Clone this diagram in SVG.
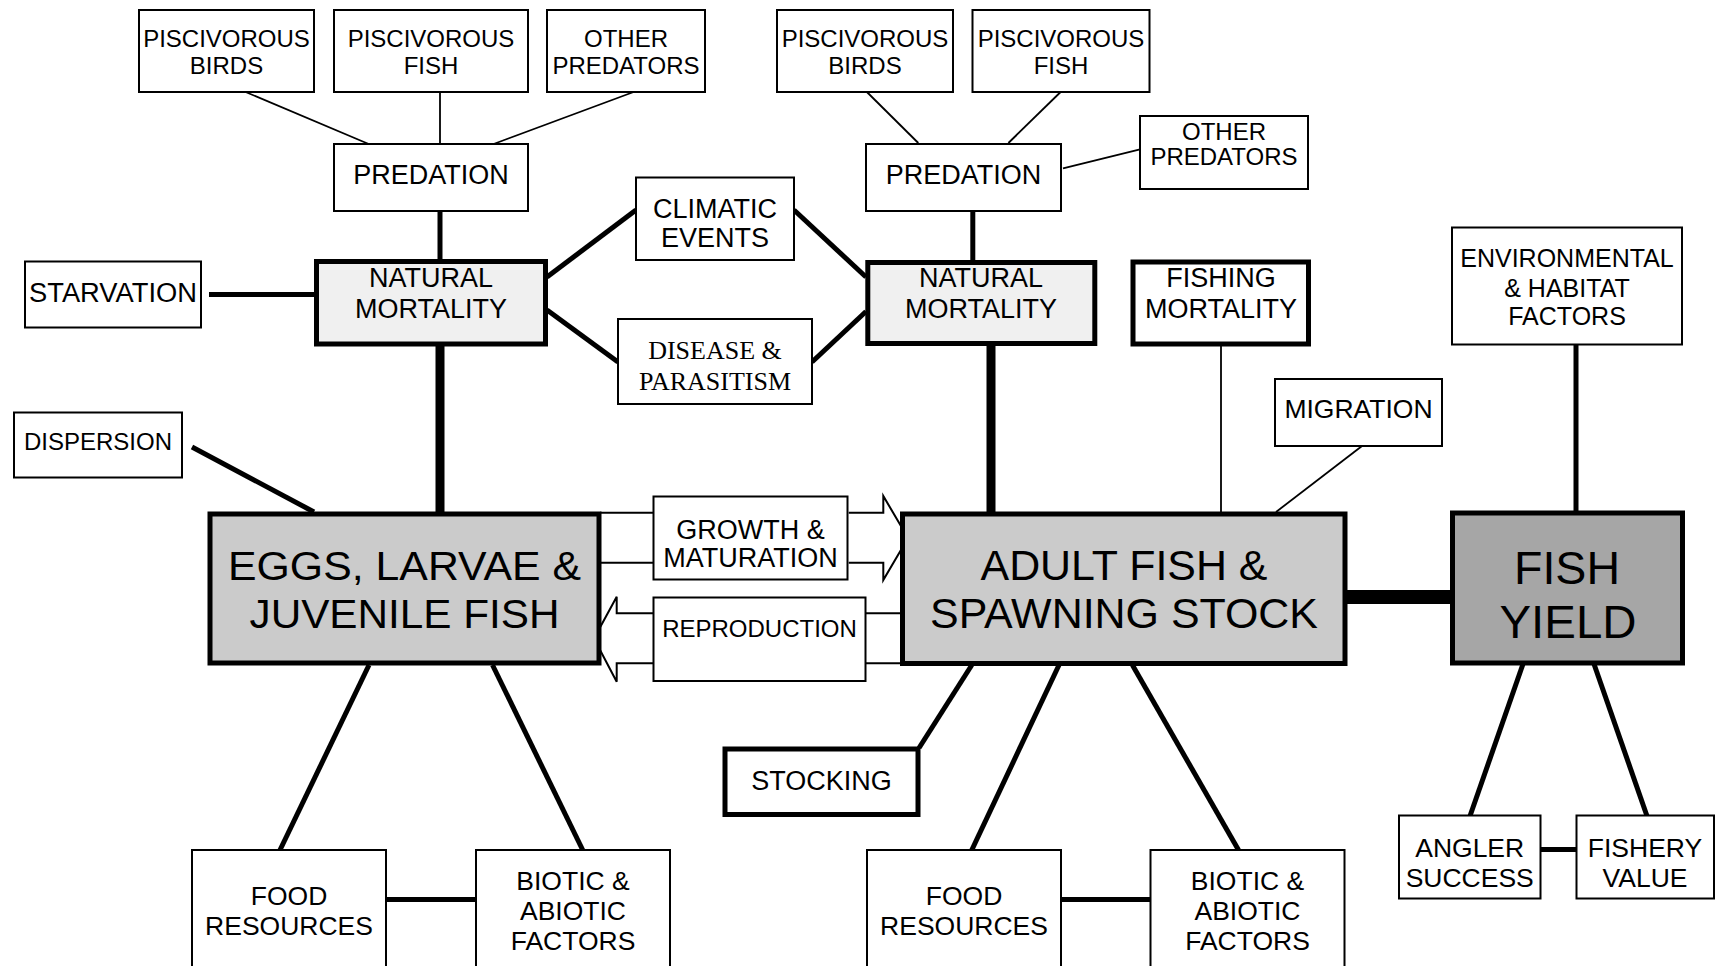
<svg xmlns="http://www.w3.org/2000/svg" width="1715" height="966" viewBox="0 0 1715 966">
<style>
.bx{fill:#fff;stroke:#000;stroke-width:2}
.bk{fill:#fff;stroke:#000;stroke-width:5}
.nm{fill:#f0f0f0;stroke:#000;stroke-width:5}
.big{fill:#cbcbcb;stroke:#000;stroke-width:5}
.fy{fill:#a6a6a6;stroke:#000;stroke-width:5}
.t{font-family:"Liberation Sans",Arial,sans-serif;font-size:27px;fill:#000;text-anchor:middle}
.m{font-size:26.5px}
.s{font-size:24px}
.sf{font-family:"Liberation Serif","Times New Roman",serif;font-size:26px}
.c1{stroke:#000;stroke-width:1.8;fill:none}
.c2{stroke:#000;stroke-width:5;fill:none}
.c3{stroke:#000;stroke-width:9;fill:none}
.c4{stroke:#000;stroke-width:14;fill:none}
.ar{stroke:#000;stroke-width:2;fill:#fff;stroke-linejoin:miter}
</style>
<rect width="1715" height="966" fill="#fff"/>
<g id="connectors">
<line class="c1" x1="245.6" y1="92" x2="368.7" y2="144"/>
<line class="c1" x1="440" y1="92" x2="440" y2="144"/>
<line class="c1" x1="633.6" y1="92" x2="493.6" y2="144"/>
<line class="c1" x1="866.9" y1="92" x2="918.3" y2="143"/>
<line class="c1" x1="1060.6" y1="92" x2="1008.4" y2="143"/>
<line class="c1" x1="1063" y1="168.3" x2="1140" y2="149.3"/>
<line class="c1" x1="1221" y1="346" x2="1221" y2="512"/>
<line class="c1" x1="1362" y1="446" x2="1276" y2="512"/>
<line class="c2" x1="440" y1="211" x2="440" y2="261"/>
<line class="c2" x1="972.8" y1="211" x2="972.8" y2="262"/>
<line class="c2" x1="209" y1="294.5" x2="316" y2="294.5"/>
<line class="c2" x1="547" y1="277" x2="636" y2="210"/>
<line class="c2" x1="794" y1="210" x2="866" y2="277"/>
<line class="c2" x1="547" y1="310" x2="618" y2="362"/>
<line class="c2" x1="812" y1="362" x2="866" y2="311.5"/>
<line class="c2" x1="192" y1="447" x2="314" y2="512"/>
<line class="c2" x1="1576" y1="345" x2="1576" y2="512"/>
<line class="c2" x1="369" y1="665" x2="280" y2="850"/>
<line class="c2" x1="492.5" y1="665" x2="582.7" y2="850"/>
<line class="c2" x1="386" y1="899.5" x2="476" y2="899.5"/>
<line class="c2" x1="971.8" y1="665" x2="919" y2="748"/>
<line class="c2" x1="1059" y1="665" x2="971.8" y2="850"/>
<line class="c2" x1="1132.4" y1="665" x2="1238.5" y2="850"/>
<line class="c2" x1="1061" y1="899.5" x2="1150" y2="899.5"/>
<line class="c2" x1="1523" y1="664" x2="1470" y2="816"/>
<line class="c2" x1="1594" y1="664" x2="1647" y2="816"/>
<line class="c2" x1="1541" y1="849.5" x2="1576" y2="849.5"/>
<line class="c3" x1="440" y1="344" x2="440" y2="513"/>
<line class="c3" x1="991" y1="344" x2="991" y2="513"/>
<line class="c4" x1="1346" y1="597" x2="1452" y2="597"/>
<line class="c1" x1="600" y1="512.7" x2="654" y2="512.7" style="stroke-width:2"/>
<line class="c1" x1="600" y1="562.7" x2="654" y2="562.7" style="stroke-width:2"/>
<path class="ar" d="M848.7,512.7 H883.3 V496 L908,538 L883.3,580 V562.7 H848.7"/>
<line class="c1" x1="865" y1="613.3" x2="902" y2="613.3" style="stroke-width:2"/>
<line class="c1" x1="865" y1="663.3" x2="902" y2="663.3" style="stroke-width:2"/>
<path class="ar" d="M653.5,613.3 H616.7 V596.7 L594,638.5 L616.7,681.7 V663.3 H653.5"/>
</g>
<g id="pisc-birds-l"><rect class="bx" x="139" y="10" width="175" height="82"/><text class="t s" x="226.5" y="47">PISCIVOROUS</text><text class="t s" x="226.5" y="74">BIRDS</text></g>
<g id="pisc-fish-l"><rect class="bx" x="334" y="10" width="194" height="82"/><text class="t s" x="431" y="47">PISCIVOROUS</text><text class="t s" x="431" y="74">FISH</text></g>
<g id="other-pred-l"><rect class="bx" x="547" y="10" width="158" height="82"/><text class="t s" x="626" y="47">OTHER</text><text class="t s" x="626" y="74">PREDATORS</text></g>
<g id="predation-l"><rect class="bx" x="334" y="144" width="194" height="67"/><text class="t" x="431" y="184">PREDATION</text></g>
<g id="pisc-birds-r"><rect class="bx" x="777" y="10" width="176" height="82"/><text class="t s" x="865" y="47">PISCIVOROUS</text><text class="t s" x="865" y="74">BIRDS</text></g>
<g id="pisc-fish-r"><rect class="bx" x="972.5" y="10" width="177" height="82"/><text class="t s" x="1061" y="47">PISCIVOROUS</text><text class="t s" x="1061" y="74">FISH</text></g>
<g id="other-pred-r"><rect class="bx" x="1140" y="116" width="168" height="73"/><text class="t s" x="1224" y="140">OTHER</text><text class="t s" x="1224" y="165">PREDATORS</text></g>
<g id="predation-r"><rect class="bx" x="866" y="144" width="195" height="67"/><text class="t" x="963.5" y="184">PREDATION</text></g>
<g id="starvation"><rect class="bx" x="25" y="261.5" width="176" height="66"/><text class="t" x="113" y="302" textLength="168" lengthAdjust="spacingAndGlyphs">STARVATION</text></g>
<g id="natmort-l"><rect class="nm" x="316.5" y="261.5" width="229" height="82.5"/><text class="t" x="431" y="287">NATURAL</text><text class="t" x="431" y="318">MORTALITY</text></g>
<g id="climatic"><rect class="bx" x="636" y="177.5" width="158" height="82.5"/><text class="t" x="715" y="218">CLIMATIC</text><text class="t" x="715" y="247">EVENTS</text></g>
<g id="disease"><rect class="bx" x="618" y="319" width="194" height="85"/><text class="t sf" x="715" y="359">DISEASE &amp;</text><text class="t sf" x="715" y="390">PARASITISM</text></g>
<g id="natmort-r"><rect class="nm" x="867.8" y="262.5" width="227" height="81"/><text class="t" x="981" y="287">NATURAL</text><text class="t" x="981" y="318">MORTALITY</text></g>
<g id="fishing-mort"><rect class="bk" x="1133" y="262" width="175.5" height="82"/><text class="t" x="1221" y="287">FISHING</text><text class="t" x="1221" y="318">MORTALITY</text></g>
<g id="environmental"><rect class="bx" x="1452" y="227.5" width="230" height="117"/><text class="t" x="1567" y="267" style="font-size:25px">ENVIRONMENTAL</text><text class="t" x="1567" y="296.5" style="font-size:25px">&amp; HABITAT</text><text class="t" x="1567" y="325" style="font-size:25px">FACTORS</text></g>
<g id="migration"><rect class="bx" x="1275" y="379" width="167" height="67"/><text class="t m" x="1358.5" y="418">MIGRATION</text></g>
<g id="dispersion"><rect class="bx" x="14" y="412.5" width="168" height="65"/><text class="t s" x="98" y="450">DISPERSION</text></g>
<g id="growth"><rect class="bx" x="653.5" y="496.5" width="194" height="83"/><text class="t" x="750.5" y="539">GROWTH &amp;</text><text class="t" x="750.5" y="567">MATURATION</text></g>
<g id="reproduction"><rect class="bx" x="653.5" y="597.5" width="212" height="83.5"/><text class="t s" x="759.5" y="637">REPRODUCTION</text></g>
<g id="eggs"><rect class="big" x="210" y="514" width="389" height="149"/><text class="t" x="404.5" y="580" style="font-size:41px" textLength="353" lengthAdjust="spacingAndGlyphs">EGGS, LARVAE &amp;</text><text class="t" x="404.5" y="628" style="font-size:41px" textLength="310" lengthAdjust="spacingAndGlyphs">JUVENILE FISH</text></g>
<g id="adult"><rect class="big" x="902.5" y="514" width="442.5" height="149.5"/><text class="t" x="1124" y="580" style="font-size:42px" textLength="287" lengthAdjust="spacingAndGlyphs">ADULT FISH &amp;</text><text class="t" x="1124" y="628" style="font-size:42px" textLength="388" lengthAdjust="spacingAndGlyphs">SPAWNING STOCK</text></g>
<g id="fish-yield"><rect class="fy" x="1452.5" y="513" width="230" height="150"/><text class="t" x="1567" y="584" style="font-size:46px" textLength="106" lengthAdjust="spacingAndGlyphs">FISH</text><text class="t" x="1568" y="638" style="font-size:46px" textLength="137" lengthAdjust="spacingAndGlyphs">YIELD</text></g>
<g id="stocking"><rect class="bk" x="725" y="749" width="193" height="65.5"/><text class="t" x="821.5" y="790">STOCKING</text></g>
<g id="food-l"><rect class="bx" x="192" y="850" width="194" height="130"/><text class="t m" x="289" y="905">FOOD</text><text class="t m" x="289" y="935">RESOURCES</text></g>
<g id="biotic-l"><rect class="bx" x="476" y="850" width="194" height="130"/><text class="t m" x="573" y="890">BIOTIC &amp;</text><text class="t m" x="573" y="919.5">ABIOTIC</text><text class="t m" x="573" y="950">FACTORS</text></g>
<g id="food-r"><rect class="bx" x="867" y="850" width="194" height="130"/><text class="t m" x="964" y="905">FOOD</text><text class="t m" x="964" y="935">RESOURCES</text></g>
<g id="biotic-r"><rect class="bx" x="1150.5" y="850" width="194" height="130"/><text class="t m" x="1247.5" y="890">BIOTIC &amp;</text><text class="t m" x="1247.5" y="919.5">ABIOTIC</text><text class="t m" x="1247.5" y="950">FACTORS</text></g>
<g id="angler"><rect class="bx" x="1399" y="815.5" width="141.5" height="83"/><text class="t m" x="1469.7" y="856.5">ANGLER</text><text class="t m" x="1469.7" y="886.5">SUCCESS</text></g>
<g id="fishery"><rect class="bx" x="1576.5" y="815.5" width="137.5" height="83"/><text class="t m" x="1645" y="856.5">FISHERY</text><text class="t m" x="1645" y="886.5">VALUE</text></g>
</svg>
